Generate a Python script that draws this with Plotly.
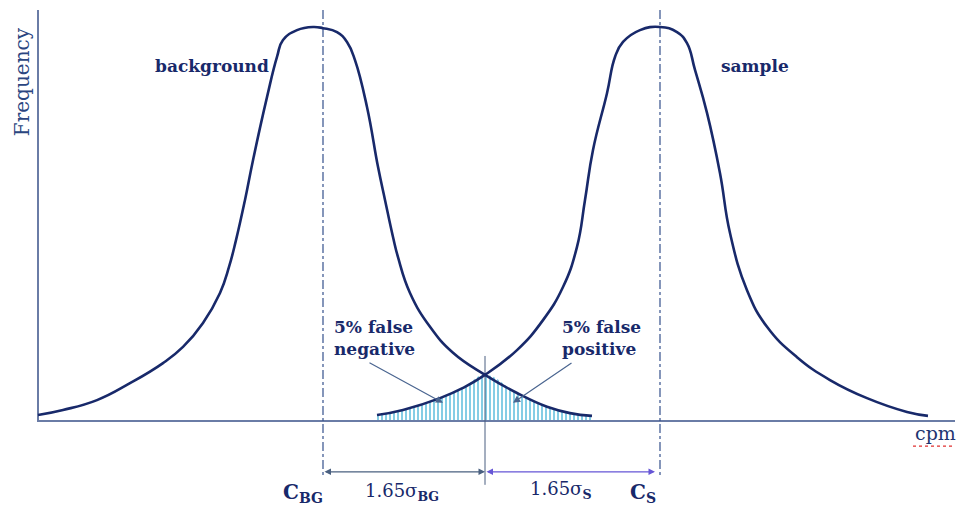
import plotly.graph_objects as go

# ---- data (cpm in arbitrary units, frequency normalised to peak = 1) ----
bg_cpm = [0.0, 2.5, 5.9, 9.2, 12.5, 14.5, 16.5, 18.2, 19.1, 19.8, 20.7, 21.5, 22.9, 23.9,
          24.5, 25.9, 27.5, 28.5, 29.9, 30.9, 31.7, 32.9, 34.0, 34.7, 35.5, 36.0, 37.2,
          39.2, 41.5, 44.7, 47.9, 50.9, 53.2, 55.4]
bg_freq = [0.015, 0.028, 0.053, 0.096, 0.147, 0.188, 0.249, 0.325, 0.391, 0.459, 0.561,
           0.662, 0.822, 0.924, 0.967, 0.992, 1.000, 0.997, 0.987, 0.962, 0.916, 0.797,
           0.645, 0.561, 0.467, 0.416, 0.325, 0.239, 0.173, 0.117, 0.071, 0.036, 0.020, 0.013]

s_cpm = [33.9, 36.5, 40.2, 42.5, 44.7, 47.9, 50.5, 52.5, 53.9, 54.7, 55.5, 56.9, 57.7,
         58.5, 60.2, 62.2, 63.9, 64.9, 65.7, 66.9, 68.2, 69.2, 70.9, 72.9, 75.9, 79.2,
         82.9, 86.9, 89.0]
s_freq = [0.015, 0.028, 0.058, 0.084, 0.117, 0.180, 0.256, 0.340, 0.442, 0.561, 0.688,
          0.832, 0.924, 0.962, 0.992, 1.000, 0.987, 0.959, 0.891, 0.782, 0.629, 0.477,
          0.332, 0.239, 0.162, 0.104, 0.058, 0.023, 0.013]

c_bg = 28.5        # background mean
c_s = 62.2         # sample mean
threshold = 44.7   # decision threshold (curve crossing)
arrow_end_s = 61.7

NAVY = "#18296a"
AXIS = "#6a7ca6"
SERIF = "DejaVu Serif"
SMOOTH = 1.3

fig = go.Figure()

# hatched overlap region (lower envelope of the two curves)
ov_x = [x for x in s_cpm if x <= threshold] + [x for x in bg_cpm if x > threshold]
ov_y = [y for x, y in zip(s_cpm, s_freq) if x <= threshold] + \
       [y for x, y in zip(bg_cpm, bg_freq) if x > threshold]
fig.add_trace(go.Scatter(x=ov_x, y=ov_y, mode="lines",
                         line=dict(width=0, shape="spline", smoothing=SMOOTH),
                         fill="tozeroy", fillcolor="rgba(0,0,0,0)",
                         fillpattern=dict(shape="|", fgcolor="#0c9bcc", bgcolor="rgba(255,255,255,0)",
                                          size=4, solidity=0.5),
                         hoverinfo="skip", showlegend=False))

# axes lines
fig.add_trace(go.Scatter(x=[0, 0, 91.7], y=[1.043, 0, 0], mode="lines",
                         line=dict(color=AXIS, width=2), hoverinfo="skip", showlegend=False))

# dash-dot mean lines
for c in (c_bg, c_s):
    fig.add_trace(go.Scatter(x=[c, c], y=[1.043, -0.142], mode="lines",
                             line=dict(color="#34508c", width=1.2, dash="dashdot"),
                             hoverinfo="skip", showlegend=False))

# threshold line
fig.add_trace(go.Scatter(x=[threshold, threshold], y=[0.165, -0.162], mode="lines",
                         line=dict(color="#4a5f80", width=1), hoverinfo="skip", showlegend=False))

# the two distributions
fig.add_trace(go.Scatter(x=bg_cpm, y=bg_freq, mode="lines",
                         line=dict(color=NAVY, width=2.6, shape="spline", smoothing=SMOOTH),
                         hoverinfo="skip", showlegend=False))
fig.add_trace(go.Scatter(x=s_cpm, y=s_freq, mode="lines",
                         line=dict(color=NAVY, width=2.6, shape="spline", smoothing=SMOOTH),
                         hoverinfo="skip", showlegend=False))

# spell-check squiggle under "cpm"
fig.add_trace(go.Scatter(x=[87.5, 91.4], y=[-0.064, -0.064], mode="lines",
                         line=dict(color="#e03030", width=1.2, dash="dot"),
                         hoverinfo="skip", showlegend=False))

# double-headed arrows under the axis
def darrow(x0, x1, y, color):
    fig.add_annotation(x=x1, y=y, ax=x0, ay=y, xref="x", yref="y", axref="x", ayref="y",
                       text="", showarrow=True, arrowhead=2, arrowside="end+start",
                       arrowsize=1, arrowwidth=1.3, arrowcolor=color)

darrow(c_bg, threshold, -0.129, "#4a6080")
darrow(threshold, arrow_end_s, -0.129, "#6656d6")

# pointer arrows to the hatched areas
fig.add_annotation(x=40.5, y=0.046, ax=33.0, ay=0.150, xref="x", yref="y", axref="x", ayref="y",
                   text="", showarrow=True, arrowhead=2, arrowsize=1.2, arrowwidth=1.2,
                   arrowcolor="#4a6590")
fig.add_annotation(x=47.5, y=0.046, ax=53.5, ay=0.150, xref="x", yref="y", axref="x", ayref="y",
                   text="", showarrow=True, arrowhead=2, arrowsize=1.2, arrowwidth=1.2,
                   arrowcolor="#4a6590")

def label(x, y, text, size, bold=True, xanchor="center", align="center", color=NAVY, angle=0):
    fig.add_annotation(x=x, y=y, xref="x", yref="y", text=text, showarrow=False,
                       xanchor=xanchor, yanchor="middle", align=align, textangle=angle,
                       font=dict(family=SERIF, size=size, color=color,
                                 weight="bold" if bold else "normal"))

label(17.4, 0.901, "background", 17)
label(71.7, 0.901, "sample", 17)
label(29.4, 0.211, "5% false<br>negative", 17, xanchor="left", align="left")
label(52.2, 0.211, "5% false<br>positive", 17, xanchor="left", align="left")
label(89.7, -0.030, "cpm", 19, bold=False, color="#1f3570")
label(-1.6, 0.860, "Frequency", 20, bold=False, color="#2a4580", angle=-90)
label(26.5, -0.183, "C<sub><b>BG</b></sub>", 20)
label(36.4, -0.180, "1.65σ<sub><b>BG</b></sub>", 18, bold=False)
label(52.2, -0.175, "1.65σ<sub><b>S</b></sub>", 18, bold=False)
label(60.5, -0.183, "C<sub><b>S</b></sub>", 20)

fig.update_layout(width=958, height=510, margin=dict(l=0, r=0, t=0, b=0),
                  paper_bgcolor="white", plot_bgcolor="white", showlegend=False,
                  xaxis=dict(range=[-3.8, 92.0], visible=False, fixedrange=True),
                  yaxis=dict(range=[-0.2259, 1.0685], visible=False, fixedrange=True))

fig.write_html("out.html")
